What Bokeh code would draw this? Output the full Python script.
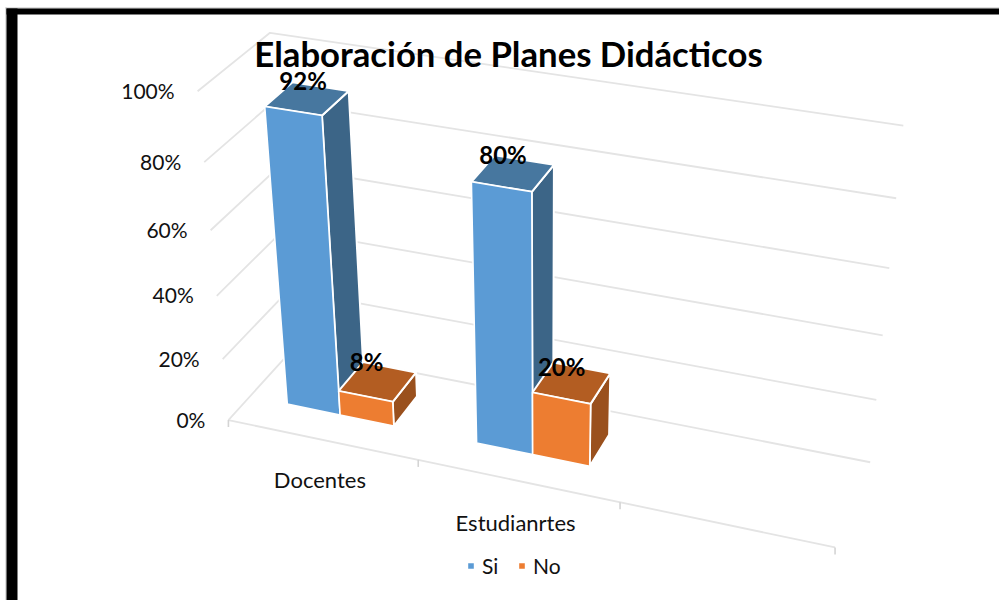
import numpy as np
from bokeh.embed import file_html
from bokeh.resources import INLINE
from bokeh.plotting import figure
from bokeh.models import Range1d, Legend, LegendItem
from bokeh.core.properties import value

TITLE = "Elaboración de Planes Didácticos"
categories = ["Docentes", "Estudianrtes"]
series_names = ["Si", "No"]
si_values = [92, 80]
no_values = [8, 20]
value_ticks = [0, 20, 40, 60, 80, 100]
tick_labels = ["0%", "20%", "40%", "60%", "80%", "100%"]
si_labels = ["92%", "80%"]
no_labels = ["8%", "20%"]

# Camera calibration: (category axis, depth, value) -> page pixel
CAL_3D = [(0,0,0),(1,0,0),(2,0,0),(3,0,0),(0,1,0),(3,1,0),(0,1,100),(3,1,100),(0,0,100),
          (3,1,20),(3,1,40),(3,1,60),(3,1,80),(0,0,20),(0,0,40),(0,0,60),(0,0,80)]
CAL_2D = [(230,418),(418,460),(620,502),(834,548),(291,350),(870,461),(271,32),(903,125),(197,91),
          (876,399),(882,334),(888.6,268),(895.6,198),(222,358),(216,295),(209,230),(203,162)]

def fit_camera(a, b):
    rows = []
    for (u, d, v), (x, y) in zip(a, b):
        v = v / 100
        rows.append([u, d, v, 1, 0, 0, 0, 0, -x*u, -x*d, -x*v, -x])
        rows.append([0, 0, 0, 0, u, d, v, 1, -y*u, -y*d, -y*v, -y])
    return np.linalg.svd(np.array(rows, dtype=float))[2][-1].reshape(3, 4)

CAM = fit_camera(CAL_3D, CAL_2D)

def proj(u, d, v):
    q = CAM @ np.array([u, d, v / 100, 1.0])
    return float(q[0] / q[2]), float(q[1] / q[2])

GAP = 0.205
BAR_W = 0.285
D0, D1 = 0.32, 0.72

def faces(cat, slot, val):
    u0 = cat + GAP + slot * BAR_W
    u1 = u0 + BAR_W
    front = [proj(u0, D0, 0), proj(u1, D0, 0), proj(u1, D0, val), proj(u0, D0, val)]
    top = [proj(u0, D0, val), proj(u1, D0, val), proj(u1, D1, val), proj(u0, D1, val)]
    side = [proj(u1, D0, 0), proj(u1, D1, 0), proj(u1, D1, val), proj(u1, D0, val)]
    return front, top, side

def xs_ys(polys):
    return [[a for a, _ in P] for P in polys], [[b for _, b in P] for P in polys]

p = figure(width=999, height=600, x_range=Range1d(0, 999), y_range=Range1d(600, 0),
           output_backend="svg", toolbar_location=None, min_border=0)
p.axis.visible = False
p.grid.visible = False
p.outline_line_color = None
p.background_fill_color = "white"

# border of the picture
p.quad(left=[5], right=[999], top=[7], bottom=[8], color="#BDBDBD", line_width=0)
p.quad(left=[5], right=[6], top=[7], bottom=[600], color="#BDBDBD", line_width=0)
p.quad(left=[6], right=[17], top=[8], bottom=[600], color="black", line_width=0)
p.quad(left=[6], right=[999], top=[8], bottom=[14], color="black", line_width=0)

GRID = "#E4E4E4"
for t in value_ticks:
    pts = [proj(0, 0, t), proj(0, 1, t), proj(3, 1, t)]
    p.line([a for a, _ in pts], [b for _, b in pts], line_color=GRID, line_width=1.8)
pts = [proj(0, 0, 0), proj(3, 0, 0)]
p.line([a for a, _ in pts], [b for _, b in pts], line_color=GRID, line_width=1.8)
for u in range(4):
    a, b = proj(u, 0, 0)
    p.segment([a], [b], [a], [b + 7], line_color="#D4D4D4", line_width=1.6)

COLORS = {"Si": ("#5B9BD5", "#47779F", "#3C6587"), "No": ("#ED7D31", "#B35D22", "#9A501D")}
front_r = {}
for slot, (name, vals) in enumerate(zip(series_names, [si_values, no_values])):
    F, T, S = [], [], []
    for c, v in enumerate(vals):
        f, t, s = faces(c, slot, v)
        F.append(f); T.append(t); S.append(s)
    cf, ct, cs = COLORS[name]
    x, y = xs_ys(S)
    p.patches(x, y, fill_color=cs, line_color="white", line_width=2)
    x, y = xs_ys(T)
    p.patches(x, y, fill_color=ct, line_color="white", line_width=2)
    x, y = xs_ys(F)
    front_r[name] = p.patches(x, y, fill_color=cf, line_color="white", line_width=1.6)

FONT = value("Lato")
# value axis labels
lx, ly = zip(*[proj(0, 0, t) for t in value_ticks])
p.text([a - 23 for a in lx], [b - 1 for b in ly], text=tick_labels, text_font=FONT, text_font_size="21px",
       text_align="right", text_baseline="middle", text_color="#111111")
# category labels
CAT_DY = [39.5, 42]
cx, cy = zip(*[proj(c + 0.5, 0, 0) for c in range(len(categories))])
p.text([a - 2 for a in cx], [b + dy for b, dy in zip(cy, CAT_DY)], text=categories, text_font=FONT,
       text_font_size="22px", text_align="center", text_baseline="middle", text_color="#111111")
# data labels
LABEL_OFF = {"Si": [(-4, -18), (-10, -19)], "No": [(-11, -20), (-10, -16)]}
for slot, (name, vals, labs) in enumerate(zip(series_names, [si_values, no_values], [si_labels, no_labels])):
    lxs, lys = [], []
    for c, v in enumerate(vals):
        u = c + GAP + (slot + 0.5) * BAR_W
        a, b = proj(u, (D0 + D1) / 2, v)
        lxs.append(a + LABEL_OFF[name][c][0]); lys.append(b + LABEL_OFF[name][c][1])
    p.text(lxs, lys, text=labs, text_font=FONT, text_font_style="bold", text_font_size="24px",
           text_align="center", text_baseline="middle", text_color="black")

p.text([508], [53], text=[TITLE], text_font=FONT, text_font_style="bold", text_font_size="34.7px",
       text_align="center", text_baseline="middle", text_color="black")

legend = Legend(items=[LegendItem(label=n, renderers=[front_r[n]]) for n in series_names],
                orientation="horizontal", location=(458, 14), border_line_alpha=0, background_fill_alpha=0,
                glyph_width=9, glyph_height=9, spacing=15, padding=8, margin=0, label_standoff=7,
                label_text_font="Lato", label_text_font_size="21px", label_text_color="#111111")
p.add_layout(legend, "center")

open("out.html", "w").write(file_html(p, INLINE))
